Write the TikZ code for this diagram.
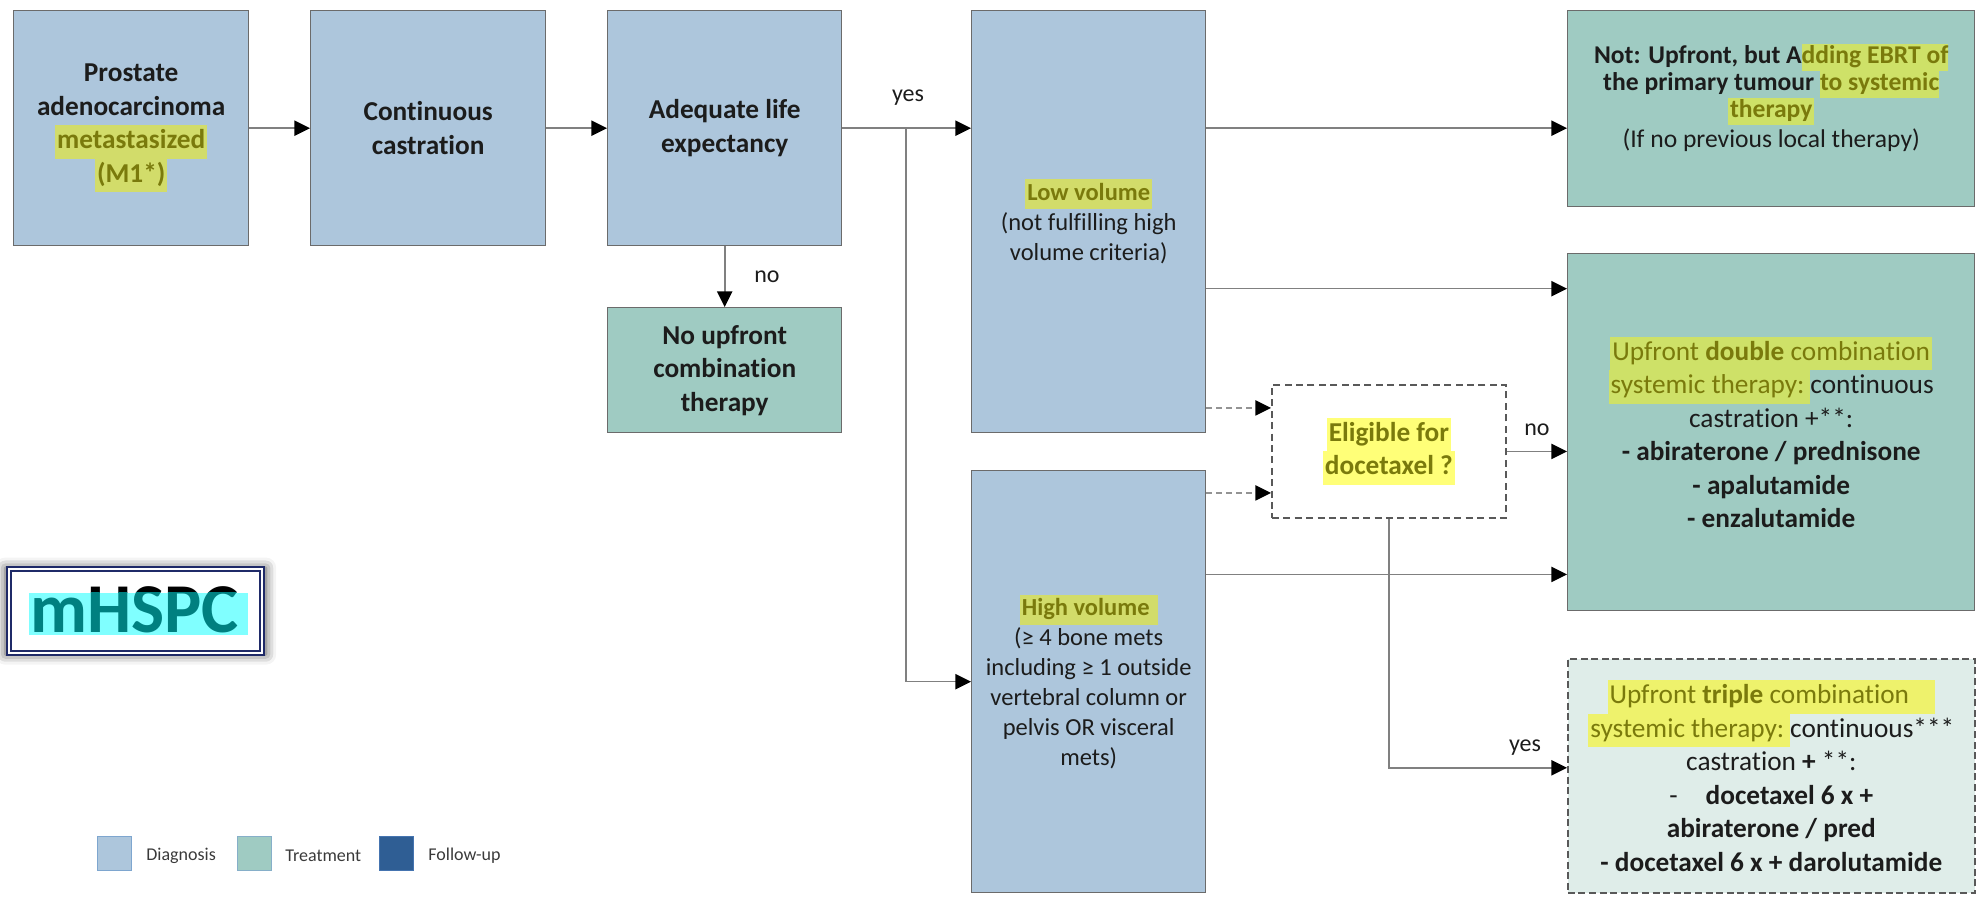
\documentclass[tikz,border=0pt]{standalone}
\usepackage{fontspec}
\setmainfont{Carlito}[Ligatures=NoCommon]
\usetikzlibrary{arrows.meta,shadows.blur,calc}

% palette
\definecolor{diag}{HTML}{ADC6DC}
\definecolor{treat}{HTML}{9FCBC2}
\definecolor{trifill}{HTML}{DFEDE9}
\definecolor{follow}{HTML}{2F5E94}
\definecolor{boxline}{HTML}{6B6B6B}
\definecolor{linegray}{HTML}{808080}
\definecolor{dashgray}{HTML}{595959}
\definecolor{txt}{HTML}{1C1C1C}
\definecolor{olivetxt}{HTML}{7A7A0C}
\definecolor{hlblue}{HTML}{D2DC6A}
\definecolor{hlgreen}{HTML}{CEE168}
\definecolor{hlwhite}{HTML}{FFFF78}
\definecolor{hltri}{HTML}{EEF26C}
\definecolor{navy}{HTML}{1F2A68}
\definecolor{mhteal}{HTML}{008080}
\definecolor{mhcyan}{HTML}{80FFFF}
\definecolor{legtxt}{HTML}{3A3A3A}
\definecolor{legdiagline}{HTML}{7EA6CF}
\definecolor{legtreatline}{HTML}{86AFC9}
\definecolor{legfollowline}{HTML}{4574B0}

% marker-pen highlight: background colour, then text
\newcommand{\mk}[2]{{\setlength{\fboxsep}{0pt}\colorbox{#1}{\hspace{1pt}\color{olivetxt}\strut #2\hspace{1pt}}}}
% same, without side padding (for a highlight starting inside a word)
\newcommand{\mkn}[2]{{\setlength{\fboxsep}{0pt}\colorbox{#1}{\color{olivetxt}\strut #2}}}

\newcommand{\fsmain}{\fontsize{13.65pt}{16.75pt}\selectfont}
\newcommand{\fsvol}{\fontsize{12.25pt}{15pt}\selectfont}
\newcommand{\fsebrt}{\fontsize{12.8pt}{13.5pt}\selectfont}
\newcommand{\fslbl}{\fontsize{12pt}{14pt}\selectfont}

\tikzset{
  box/.style={draw=boxline, line width=0.7pt, anchor=north west, inner sep=0pt,
    align=center, text=txt, font=\fsmain},
  diagbox/.style={box, fill=diag},
  treatbox/.style={box, fill=treat},
  decisionbox/.style={box, fill=white, draw=dashgray, line width=0.9pt,
    dash pattern=on 3.5pt off 2.2pt},
  triplebox/.style={box, fill=trifill, draw=dashgray, line width=0.8pt,
    dash pattern=on 3.5pt off 1.8pt},
  conn/.style={draw=linegray, line width=0.8pt,
    -{Triangle[length=7.8pt,width=7.6pt,color=black]}},
  dconn/.style={conn, draw=linegray!85, dash pattern=on 3pt off 2pt},
  lbl/.style={font=\fslbl, text=txt, inner sep=0pt},
  legsq/.style={anchor=north west, minimum width=17pt, minimum height=17pt,
    inner sep=0pt, line width=0.6pt},
  legtext/.style={anchor=west, inner sep=0pt, text=legtxt,
    font=\fontsize{9pt}{11pt}\selectfont},
  mhtext/.style={inner sep=0pt, anchor=base west,
    font=\fontsize{35pt}{40pt}\selectfont\bfseries},
}

\begin{document}
\begin{tikzpicture}[x=0.5pt, y=-0.5pt]
\useasboundingbox (0,0) rectangle (1977,897);

% diagnosis column
\node[diagbox, font=\fsmain\bfseries, minimum width=117.5pt, minimum height=117.5pt]
  (prost) at (13,10) {Prostate\\adenocarcinoma\\\mk{hlblue}{metastasized}\\\mk{hlblue}{(M1*)}};
\node[diagbox, font=\fsmain\bfseries, minimum width=117.5pt, minimum height=117.5pt]
  (cast) at (310,10) {Continuous\\castration};
\node[diagbox, font=\fsmain\bfseries, minimum width=117pt, minimum height=117.5pt]
  (life) at (607,10) {Adequate life\\expectancy};
\node[treatbox, font=\fsmain\bfseries, minimum width=117pt, minimum height=62.5pt]
  (noup) at (607,307) {No upfront\\combination\\therapy};

% disease volume
\node[diagbox, font=\fsvol, minimum width=117pt, minimum height=211pt]
  (low) at (971,10) {\mk{hlblue}{\textbf{Low volume}}\\(not fulfilling high\\volume criteria)};
\node[diagbox, font=\fsvol, minimum width=117pt, minimum height=211pt]
  (high) at (971,470) {\mk{hlblue}{\textbf{High volume}\hspace{3pt}}\\(≥ 4 bone mets\\including ≥ 1 outside\\vertebral column or\\pelvis OR visceral\\mets)};

% decision
\node[decisionbox, font=\fsmain\bfseries, minimum width=117pt, minimum height=66.5pt]
  (elig) at (1271,384) {\mk{hlwhite}{Eligible for}\\\mk{hlwhite}{docetaxel ?}};

% treatment options
\node[treatbox, font=\fsebrt, minimum width=203.5pt, minimum height=98pt, text depth=13pt]
  (ebrt) at (1567,10) {\textbf{Not: Upfront, but A\mkn{hlgreen}{dding EBRT of}}\\
  \textbf{the primary tumour \mkn{hlgreen}{to systemic}}\\
  \textbf{\mk{hlgreen}{therapy}}\\[1.5pt]
  (If no previous local therapy)};
\node[treatbox, minimum width=203.5pt, minimum height=178.5pt]
  (dbl) at (1567,253) {\mk{hlgreen}{Upfront \textbf{double} combination}\\
  \mkn{hlgreen}{\hspace{1pt}systemic therapy:\hspace{3pt}}continuous\\
  castration +**:\\
  \textbf{- abiraterone / prednisone}\\
  \textbf{- apalutamide}\\
  \textbf{- enzalutamide}};
\node[triplebox, minimum width=203.5pt, minimum height=117pt]
  (tri) at (1567,658) {\mk{hltri}{Upfront \textbf{triple} combination\hspace{12pt}}\\
  \mkn{hltri}{\hspace{1pt}systemic therapy:\hspace{3pt}}continuous***\\
  castration \textbf{+} **:\\
  -\hspace{14pt}\textbf{docetaxel 6 x +}\\
  \textbf{abiraterone / pred}\\
  \textbf{- docetaxel 6 x + darolutamide}};

% connectors
\draw[conn] (prost.east) -- (cast.west);
\draw[conn] (cast.east) -- (life.west);
\draw[conn] (life.east) -- (life.east -| low.west);
\node[lbl] (yeslife) at (908,98) {yes};
\coordinate (split) at (906,127.5);
\draw[conn] (split) |- (high.west);
\draw[conn] (life.south) -- (noup.north);
\node[lbl] (nolife) at (767,277) {no};

\draw[conn] (life.east -| low.east) -- (life.east -| ebrt.west);
\draw[conn] ([yshift=-33.5pt]low.east) -- ([yshift=-33.5pt]low.east -| dbl.west);
\draw[dconn] ([yshift=21.75pt]elig.west -| low.east) -- ([yshift=21.75pt]elig.west);
\draw[dconn] ([yshift=-20.75pt]elig.west -| high.east) -- ([yshift=-20.75pt]elig.west);
\draw[conn] (elig.east) -- (elig.east -| dbl.west);
\node[lbl] (noelig) at (1537,430) {no};
\draw[conn] ([yshift=18.5pt]dbl.south west -| high.east) -- ([yshift=18.5pt]dbl.south west);
\draw[conn] (elig.south) |- ([yshift=4pt]tri.west);
\node[lbl] (yeselig) at (1525,748) {yes};

% title badge
\node[draw=navy, line width=1.1pt, double=white, double distance=1pt, fill=white,
  anchor=north west, minimum width=126.5pt, minimum height=42pt, inner sep=0pt,
  blur shadow={shadow xshift=0pt, shadow yshift=0pt, shadow blur radius=5pt,
    shadow scale=1.03, shadow opacity=70}]
  (badge) at (8,568) {};
\node[mhtext, text=black] (badgetext) at (30,633) {mHSPC};
\begin{scope}
  \clip (29,593) rectangle (248,635);
  \fill[mhcyan] (29,593) rectangle (248,635);
  \node[mhtext, text=mhteal] (badgetextlit) at (30,633) {mHSPC};
\end{scope}

% legend
\node[legsq, fill=diag, draw=legdiagline] (legdiag) at (97,836) {};
\node[legtext] (legdiagtext) at (146,856) {Diagnosis};
\node[legsq, fill=treat, draw=legtreatline] (legtreat) at (237,836) {};
\node[legtext] (legtreattext) at (285,856) {Treatment};
\node[legsq, fill=follow, draw=legfollowline] (legfollow) at (379,836) {};
\node[legtext] (legfollowtext) at (428,856) {Follow-up};
\end{tikzpicture}
\end{document}
